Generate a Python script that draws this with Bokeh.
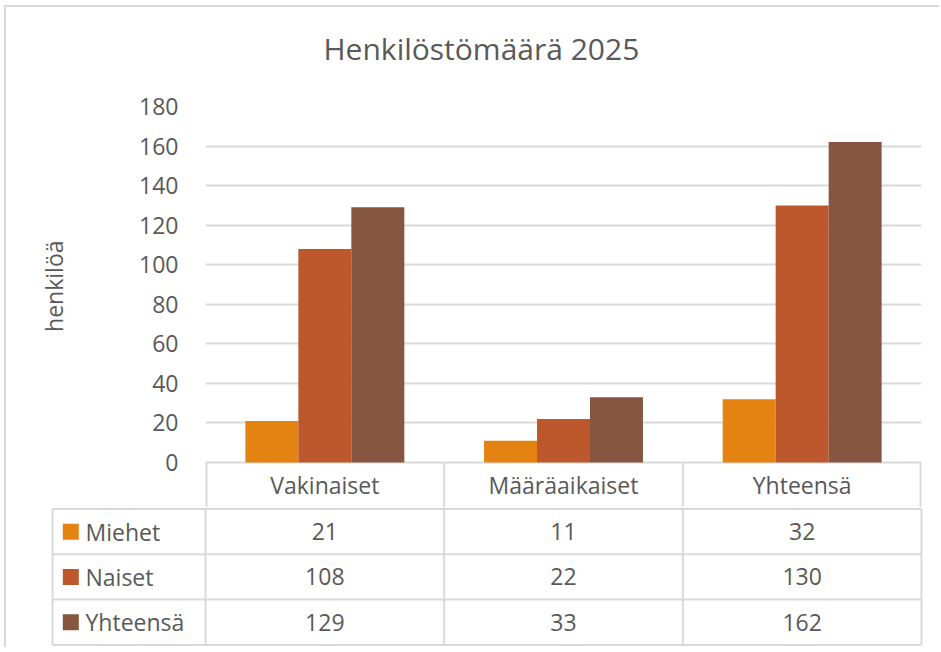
import numpy as np
from bokeh.plotting import figure
from bokeh.models import ColumnDataSource, Range1d, FactorRange, FixedTicker, Title
from bokeh.transform import dodge
from bokeh.layouts import column
from bokeh.embed import file_html
from bokeh.resources import INLINE
from bokeh.core.properties import value

# ---------------- data ----------------
title_text = "Henkilöstömäärä 2025"
y_label = "henkilöä"
categories = ["Vakinaiset", "Määräaikaiset", "Yhteensä"]
series_names = ["Miehet", "Naiset", "Yhteensä"]
miehet = [21, 11, 32]
naiset = [108, 22, 130]
yhteensa = [129, 33, 162]
y_ticks = [0, 20, 40, 60, 80, 100, 120, 140, 160, 180]
colors = ["#E48312", "#BD582C", "#865640"]

# ---------------- style / layout ----------------
FONT = "Open Sans"
TXT = "#595959"
GRID = "#D9D9D9"
FS = "23px"

W = 933
FRAME_LEFT = 199
FRAME_RIGHT_PAD = 18
FRAME_TOP = 99
PLOT_H = 356          # pixel height of the 0..max value area
HDR_H = 45            # header row of the data table
TOP_H = FRAME_TOP + PLOT_H + HDR_H
BAR_W = 0.222

y_max = y_ticks[-1]
y_lo = -HDR_H * y_max / PLOT_H

# ---------------- chart ----------------
p = figure(x_range=FactorRange(factors=categories), y_range=Range1d(y_lo, y_max),
           width=W, height=TOP_H, output_backend="svg", toolbar_location=None,
           title=None, x_axis_location=None,
           min_border_left=FRAME_LEFT, min_border_right=FRAME_RIGHT_PAD,
           min_border_top=FRAME_TOP, min_border_bottom=0)
p.frame_align = False

ax = p.yaxis[0]
ax.ticker = FixedTicker(ticks=y_ticks)
ax.axis_line_color = None
ax.major_tick_line_color = None
ax.minor_tick_line_color = None
ax.major_tick_out = 0
ax.major_tick_in = 0
ax.major_label_standoff = 27
ax.major_label_text_font = FONT
ax.major_label_text_font_size = FS
ax.major_label_text_color = TXT

p.ygrid.grid_line_color = GRID
p.ygrid.grid_line_width = 2
p.xgrid.grid_line_color = None
p.outline_line_color = None

# spacer + chart title (above)
p.add_layout(Title(text=" ", text_font_size="1px", standoff=35), "above")
p.add_layout(Title(text=title_text, align="left", offset=118, standoff=0,
                   vertical_align="bottom", text_font=FONT, text_font_size="30px",
                   text_font_style="normal", text_color=TXT), "above")
# spacer + value axis title (left)
p.add_layout(Title(text=" ", text_font_size="1px", standoff=64), "left")
p.add_layout(Title(text=y_label, align="right", offset=134, standoff=0,
                   vertical_align="bottom", text_font=FONT, text_font_size=FS,
                   text_font_style="normal", text_color=TXT), "left")

src = ColumnDataSource(dict(cat=categories, s0=miehet, s1=naiset, s2=yhteensa))
n_series = len(series_names)
for i in range(n_series):
    off = (i - (n_series - 1) / 2) * BAR_W
    p.vbar(x=dodge("cat", off, range=p.x_range), top=f"s{i}", width=BAR_W,
           source=src, fill_color=colors[i], line_color=None)

# header row of the table (category names) inside the chart frame
n_cat = len(categories)
edges = list(range(n_cat + 1))
p.segment(x0=edges, y0=[y_lo] * len(edges), x1=edges, y1=[0] * len(edges),
          line_color=GRID,
          line_width=[4 if e in (0, n_cat) else 2 for e in edges])
p.text(x=categories, y=[y_lo / 2] * n_cat, text=categories, text_align="center",
       text_baseline="middle", text_font=value(FONT), text_font_size=FS, text_color=TXT)

# ---------------- data table rows ----------------
ppu = (W - FRAME_LEFT - FRAME_RIGHT_PAD) / n_cat   # pixels per category column
label_w = 153 / ppu
q_left = 40
q_right_pad = 12
x_start = -(FRAME_LEFT - q_left) / ppu
x_end = (W - q_right_pad - FRAME_LEFT) / ppu
ROW_H = 45.3
BOT_H = 140
PAD = 1.5

q = figure(width=W, height=BOT_H, output_backend="svg", toolbar_location=None,
           title=None, x_axis_location=None, y_axis_location=None,
           x_range=Range1d(x_start, x_end),
           y_range=Range1d((BOT_H - PAD) / ROW_H, -PAD / ROW_H),
           min_border_left=q_left, min_border_right=q_right_pad,
           min_border_top=0, min_border_bottom=0)
q.frame_align = False
q.grid.visible = False
q.outline_line_color = None

x0s, y0s, x1s, y1s = [], [], [], []
for r in range(n_series + 1):
    x0s.append(-label_w); x1s.append(n_cat); y0s.append(r); y1s.append(r)
for xx in [-label_w] + edges:
    x0s.append(xx); x1s.append(xx); y0s.append(0); y1s.append(n_series)
q.segment(x0=x0s, y0=y0s, x1=x1s, y1=y1s, line_color=GRID, line_width=2)

cat_x = np.arange(n_cat) + 0.5
all_vals = [miehet, naiset, yhteensa]
for j in range(n_series):
    yy = j + 0.5
    q.text(x=cat_x, y=[yy] * n_cat, text=[str(v) for v in all_vals[j]],
           text_align="center", text_baseline="middle", text_font=value(FONT),
           text_font_size=FS, text_color=TXT)
    q.rect(x=[-label_w + 18.3 / ppu], y=[yy], width=16, height=16,
           width_units="screen", height_units="screen",
           fill_color=colors[j], line_color=None)
    q.text(x=[-label_w], y=[yy], text=[series_names[j]], x_offset=33,
           text_align="left", text_baseline="middle", text_font=value(FONT),
           text_font_size=FS, text_color=TXT)

layout = column(p, q, spacing=0,
                styles={"margin-left": "4px", "margin-top": "5px",
                        "border-left": "2px solid #D9D9D9",
                        "border-top": "2px solid #D9D9D9"})

open("out.html", "w").write(file_html(layout, INLINE))
